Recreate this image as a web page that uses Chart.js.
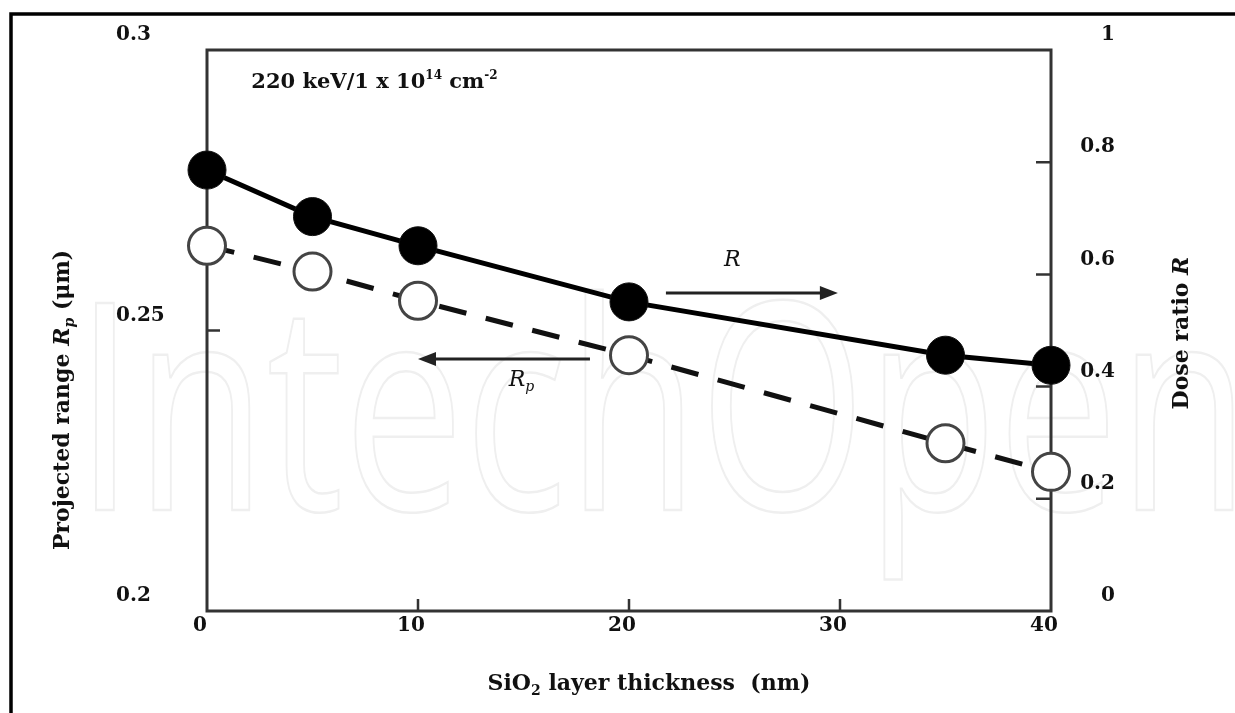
<!DOCTYPE html>
<html>
<head>
<meta charset="utf-8">
<script src="https://cdn.jsdelivr.net/npm/chart.js@4.4.1/dist/chart.umd.min.js"></script>
<style>
  html, body { margin: 0; padding: 0; background: #fff; }
  canvas { display: block; }
</style>
</head>
<body>
<canvas id="doseChart" width="1235" height="713"></canvas>
<script>
// SiO2 layer thickness (nm)
const thickness = [0, 5, 10, 20, 35, 40];
// dose ratio R, right axis
const doseRatio = [0.786, 0.703, 0.651, 0.551, 0.456, 0.438];
// projected range Rp (um), left axis
const projectedRange = [0.2651, 0.2605, 0.2553, 0.2456, 0.2299, 0.2248];

const xTicks = [0, 10, 20, 30, 40];
const rpTicks = [0.2, 0.25, 0.3];
const rTicks = [0, 0.2, 0.4, 0.6, 0.8, 1];

const serif = '"DejaVu Serif", serif';
const tickFont = { family: serif, size: 20, weight: 'bold' };

function toPoints(xs, ys) {
    return xs.map((x, i) => ({ x: x, y: ys[i] }));
}

function setTicks(list) {
    return scale => { scale.ticks = list.map(v => ({ value: v })); };
}

// draw a row of text pieces with different fonts (subscripts, italics)
function drawRuns(ctx, runs, x, y, align) {
    let total = 0;
    runs.forEach(r => { ctx.font = r.font; total += ctx.measureText(r.text).width; });
    let cx = align === 'center' ? x - total / 2 : x;
    ctx.textBaseline = 'alphabetic';
    ctx.textAlign = 'left';
    runs.forEach(r => {
        ctx.font = r.font;
        ctx.fillText(r.text, cx, y + (r.dy || 0));
        cx += ctx.measureText(r.text).width;
    });
}

function arrow(ctx, x1, y, x2) {
    const dir = Math.sign(x2 - x1);
    ctx.beginPath();
    ctx.moveTo(x1, y);
    ctx.lineTo(x2 - dir * 12, y);
    ctx.stroke();
    ctx.beginPath();
    ctx.moveTo(x2, y);
    ctx.lineTo(x2 - dir * 18, y - 7);
    ctx.lineTo(x2 - dir * 18, y + 7);
    ctx.closePath();
    ctx.fill();
}

const B = 'bold 22px ' + serif;
const BI = 'italic bold 22px ' + serif;
const SUB = 'bold 14px ' + serif;
const SUBI = 'italic bold 14px ' + serif;
const NOTE = 'bold 21px ' + serif;

const framePlugin = {
    id: 'frame',
    beforeDraw(chart) {
        const ctx = chart.ctx;
        ctx.save();
        ctx.fillStyle = '#fff';
        ctx.fillRect(0, 0, chart.width, chart.height);

        // faint watermark
        ctx.font = '290px "Open Sans", sans-serif';
        const w = ctx.measureText('IntechOpen').width;
        ctx.translate(75, 510);
        ctx.scale(1175 / w, 1);
        ctx.strokeStyle = '#efefef';
        ctx.lineWidth = 2.5;
        ctx.strokeText('IntechOpen', 0, 0);
        ctx.restore();

        // outer frame (top and left)
        ctx.save();
        ctx.strokeStyle = '#000';
        ctx.lineWidth = 3.5;
        ctx.beginPath();
        ctx.moveTo(11, chart.height);
        ctx.lineTo(11, 14);
        ctx.lineTo(chart.width, 14);
        ctx.stroke();
        ctx.restore();
    },
    beforeDatasetsDraw(chart) {
        const ctx = chart.ctx;
        const a = chart.chartArea;
        const sx = chart.scales.x, sl = chart.scales.yRp, sr = chart.scales.yR;
        ctx.save();
        ctx.strokeStyle = '#333';
        ctx.lineWidth = 3;
        ctx.strokeRect(a.left, a.top, a.right - a.left, a.bottom - a.top);

        // inner tick marks
        ctx.lineWidth = 2.5;
        ctx.beginPath();
        xTicks.slice(1, -1).forEach(v => {
            const px = sx.getPixelForValue(v);
            ctx.moveTo(px, a.bottom);
            ctx.lineTo(px, a.bottom - 12);
        });
        rpTicks.slice(1, -1).forEach(v => {
            const py = sl.getPixelForValue(v);
            ctx.moveTo(a.left, py);
            ctx.lineTo(a.left + 13, py);
        });
        rTicks.slice(1, -1).forEach(v => {
            const py = sr.getPixelForValue(v);
            ctx.moveTo(a.right, py);
            ctx.lineTo(a.right - 15, py);
        });
        ctx.stroke();

        // axis titles
        ctx.fillStyle = '#111';
        drawRuns(ctx, [
            { text: 'SiO', font: B },
            { text: '2', font: SUB, dy: 5 },
            { text: ' layer thickness  (nm)', font: B }
        ], 649, 690, 'center');

        ctx.save();
        ctx.translate(69, 400);
        ctx.rotate(-Math.PI / 2);
        drawRuns(ctx, [
            { text: 'Projected range ', font: B },
            { text: 'R', font: BI },
            { text: 'p', font: SUBI, dy: 5 },
            { text: ' (μm)', font: B }
        ], 0, 0, 'center');
        ctx.restore();

        ctx.save();
        ctx.translate(1188, 333);
        ctx.rotate(-Math.PI / 2);
        drawRuns(ctx, [
            { text: 'Dose ratio ', font: B },
            { text: 'R', font: BI }
        ], 0, 0, 'center');
        ctx.restore();

        // condition label
        drawRuns(ctx, [
            { text: '220 keV/1 x 10', font: NOTE },
            { text: '14', font: 'bold 12px ' + serif, dy: -9 },
            { text: ' cm', font: NOTE },
            { text: '-2', font: 'bold 12px ' + serif, dy: -9 }
        ], sx.getPixelForValue(2.1), sl.getPixelForValue(0.2932), 'left');

        // arrows pointing to each axis
        ctx.strokeStyle = '#222';
        ctx.fillStyle = '#222';
        ctx.lineWidth = 3;
        arrow(ctx, sx.getPixelForValue(21.75), sr.getPixelForValue(0.567), sx.getPixelForValue(29.9));
        arrow(ctx, sx.getPixelForValue(18.15), sl.getPixelForValue(0.2449), sx.getPixelForValue(10.0));

        ctx.fillStyle = '#111';
        drawRuns(ctx, [{ text: 'R', font: 'italic 22px ' + serif }],
            sx.getPixelForValue(24.9), sr.getPixelForValue(0.629) + 8, 'center');
        drawRuns(ctx, [
            { text: 'R', font: 'italic 22px ' + serif },
            { text: 'p', font: 'italic 14px ' + serif, dy: 5 }
        ], sx.getPixelForValue(14.9), sl.getPixelForValue(0.2415) + 8, 'center');
        ctx.restore();
    }
};

const ctx = document.getElementById('doseChart').getContext('2d');
const doseChart = new Chart(ctx, {
    type: 'scatter',
    data: {
        datasets: [{
            label: 'R',
            data: toPoints(thickness, doseRatio),
            yAxisID: 'yR',
            showLine: true,
            borderColor: '#000',
            borderWidth: 5,
            pointRadius: 19,
            pointBackgroundColor: '#000',
            pointBorderColor: '#111',
            pointBorderWidth: 1,
            clip: false
        }, {
            label: 'Rp',
            data: toPoints(thickness, projectedRange),
            yAxisID: 'yRp',
            showLine: true,
            borderColor: '#111',
            borderWidth: 5,
            borderDash: [28, 20],
            pointRadius: 18.5,
            pointBackgroundColor: '#fff',
            pointBorderColor: '#444',
            pointBorderWidth: 3,
            clip: false
        }]
    },
    options: {
        responsive: false,
        animation: false,
        layout: { padding: { left: 116, right: 120, top: 50, bottom: 0 } },
        plugins: {
            legend: { display: false },
            tooltip: { enabled: false }
        },
        scales: {
            x: {
                type: 'linear',
                min: 0,
                max: 40,
                afterBuildTicks: setTicks(xTicks),
                afterFit: s => { s.height = 102; },
                grid: { display: false },
                border: { display: false },
                ticks: { font: tickFont, color: '#111', padding: -5, labelOffset: -7, maxRotation: 0 }
            },
            yRp: {
                type: 'linear',
                position: 'left',
                min: 0.2,
                max: 0.3,
                afterBuildTicks: setTicks(rpTicks),
                afterFit: s => { s.width = 91; },
                grid: { display: false },
                border: { display: false },
                ticks: { font: tickFont, color: '#111', crossAlign: 'far', labelOffset: -15, callback: v => String(v) }
            },
            yR: {
                type: 'linear',
                position: 'right',
                min: 0,
                max: 1,
                afterBuildTicks: setTicks(rTicks),
                afterFit: s => { s.width = 64; },
                grid: { display: false },
                border: { display: false },
                ticks: { font: tickFont, color: '#111', crossAlign: 'far', labelOffset: -15, callback: v => String(v) }
            }
        }
    },
    plugins: [framePlugin]
});
</script>
</body>
</html>
